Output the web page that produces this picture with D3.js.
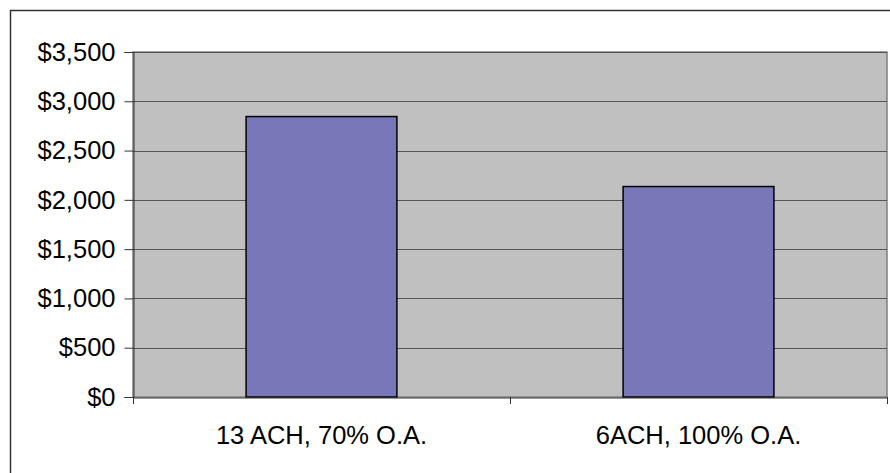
<!DOCTYPE html>
<html>
<head>
<meta charset="utf-8">
<script src="https://cdn.jsdelivr.net/npm/d3@7"></script>
<style>
  html, body { margin: 0; padding: 0; background: #fff; }
  svg { display: block; }
</style>
</head>
<body>
<svg id="chart" width="890" height="473"></svg>
<script>
// Cost comparison of two ventilation strategies
const categories = ["13 ACH, 70% O.A.", "6ACH, 100% O.A."];
const costs = [2845, 2135];
const yTicks = [0, 500, 1000, 1500, 2000, 2500, 3000, 3500];

const svg = d3.select("#chart");
const font = "'Liberation Sans', Arial, sans-serif";
const fontSize = 25.5;

// Outer chart frame
svg.append("rect")
  .attr("x", 10.5).attr("y", 10.5)
  .attr("width", 900).attr("height", 480)
  .attr("fill", "#fff").attr("stroke", "#333").attr("stroke-width", 1.5);

const plot = { left: 133, top: 52, right: 887, bottom: 397 };

const x = d3.scaleBand()
  .domain(categories)
  .range([plot.left, plot.right])
  .paddingInner(0).paddingOuter(0);

const y = d3.scaleLinear()
  .domain([0, 3500])
  .range([plot.bottom, plot.top]);

// Plot background
svg.append("rect")
  .attr("x", plot.left).attr("y", plot.top)
  .attr("width", plot.right - plot.left).attr("height", plot.bottom - plot.top)
  .attr("fill", "#c0c0c0").attr("stroke", "#808080").attr("stroke-width", 1.5);

// Horizontal gridlines
svg.append("g").selectAll("line")
  .data(yTicks.filter(d => d > 0))
  .join("line")
  .attr("x1", plot.left).attr("x2", plot.right)
  .attr("y1", d => Math.round(y(d)) + 0.5).attr("y2", d => Math.round(y(d)) + 0.5)
  .attr("stroke", "#555").attr("stroke-width", 1.2);

// Bars
const barW = x.bandwidth() / 2.5;
svg.append("g").selectAll("rect")
  .data(costs)
  .join("rect")
  .attr("x", (d, i) => x(categories[i]) + (x.bandwidth() - barW) / 2)
  .attr("y", d => y(d))
  .attr("width", barW)
  .attr("height", d => y(0) - y(d))
  .attr("fill", "#7878b8")
  .attr("stroke", "#000").attr("stroke-width", 1.5);

// Y axis
const yAxis = d3.axisLeft(y)
  .tickValues(yTicks)
  .tickSize(9)
  .tickPadding(9)
  .tickFormat(d => "$" + d3.format(",")(d));
const gy = svg.append("g")
  .attr("transform", `translate(${plot.left + 0.5},0)`)
  .call(yAxis);
gy.select(".domain").attr("stroke", "#333");
gy.selectAll(".tick line").attr("stroke", "#333");
gy.selectAll(".tick text")
  .attr("font-family", font).attr("font-size", fontSize).attr("fill", "#000");

// X axis
const xAxis = d3.axisBottom(x)
  .tickSize(0)
  .tickPadding(28);
const gx = svg.append("g")
  .attr("transform", `translate(0,${plot.bottom + 0.5})`)
  .call(xAxis);
gx.select(".domain").attr("stroke", "#333");
gx.selectAll(".tick text")
  .attr("font-family", font).attr("font-size", fontSize).attr("fill", "#000");

// Category boundary ticks
const bounds = [plot.left, ...categories.map(c => x(c) + x.bandwidth())];
svg.append("g").selectAll("line")
  .data(bounds)
  .join("line")
  .attr("x1", d => Math.round(d) + 0.5).attr("x2", d => Math.round(d) + 0.5)
  .attr("y1", plot.bottom).attr("y2", plot.bottom + 7)
  .attr("stroke", "#333");
</script>
</body>
</html>
